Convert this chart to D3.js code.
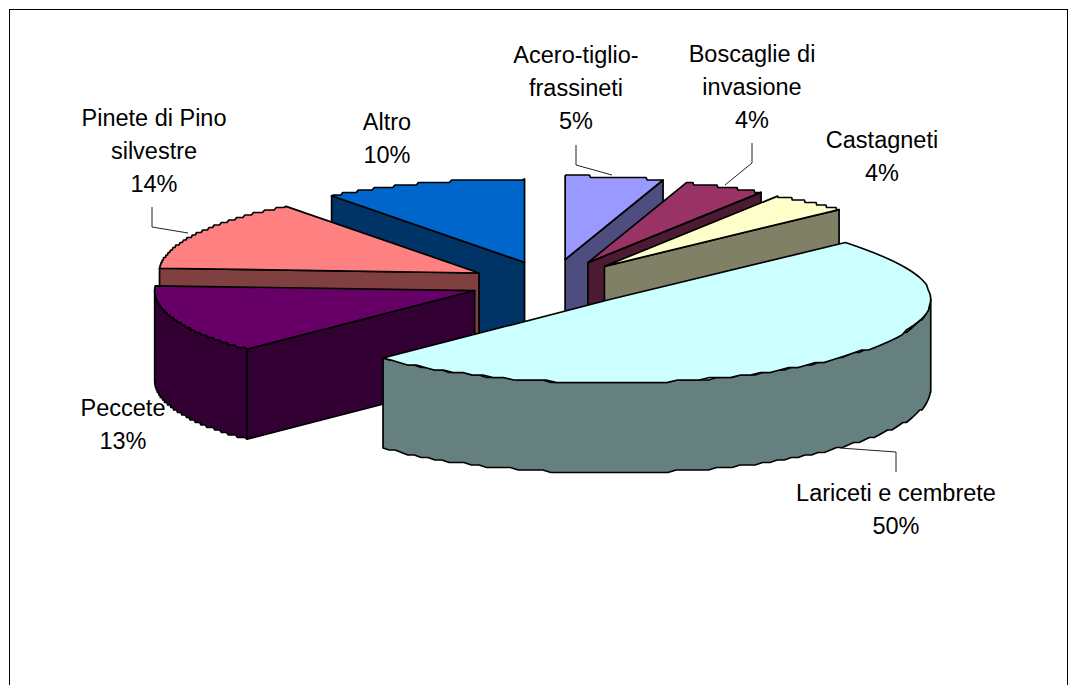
<!DOCTYPE html>
<html><head><meta charset="utf-8">
<script src="https://cdn.jsdelivr.net/npm/d3@7/dist/d3.min.js"></script>
<style>html,body{margin:0;padding:0;background:#fff}svg{display:block}text{font-family:"Liberation Sans",Arial,sans-serif;font-size:23.5px;fill:#000}</style>
</head><body><svg id="c" width="1077" height="685"></svg>
<script>
const categories=["Acero-tiglio-frassineti","Boscaglie di invasione","Castagneti","Lariceti e cembrete","Peccete","Pinete di Pino silvestre","Altro"];
const values=[4.95,4.15,4.0,49.5,13.3,13.8,10.3];
const topColors=["#9999FF","#993366","#FFFFCC","#CCFFFF","#660066","#FF8080","#0066CC"];
const sideColors=["#4D4D80","#4D1A33","#808066","#668080","#330033","#804040","#003366"];
const explodeFractions=[0.285,0.27,0.26,0.27,0.255,0.255,0.26];
const labelLines=[["Acero-tiglio-","frassineti","5%"],["Boscaglie di","invasione","4%"],["Castagneti","4%"],["Lariceti e cembrete","50%"],["Peccete","13%"],["Pinete di Pino","silvestre","14%"],["Altro","10%"]];
const labelAnchors=[[576,63],[752,62],[882,148],[896,501],[123,416],[154,126],[387,130]];
const leaders=[[[576,145],[576,165],[612,175]],[[752,143],[752,163],[725,185]],null,[[896,472],[896,452],[840,448]],null,[[152,207],[152,227],[188,233]],null];
const drawOrder=[6,0,1,2,5,4,3];
const cx=551,cy=283,rx=320,ry=83.5,depth=90,arcStep=2.5,arcSamples=90;
const svg=d3.select("#c");
svg.append("rect").attr("x",9.5).attr("y",9.5).attr("width",1058).attr("height",690).attr("fill","#fff").attr("stroke","#000");
const arcs=d3.pie().sort(null).value(d=>d)(values);
const sx=d3.scaleLinear().domain([-1,1]).range([-rx,rx]);
const sy=d3.scaleLinear().domain([-1,1]).range([-ry,ry]);
const line=d3.line();
const q=v=>Math.round(v/arcStep)*arcStep;
drawOrder.forEach(i=>{
  const a=arcs[i],mid=(a.startAngle+a.endAngle)/2,e=explodeFractions[i];
  const ox=cx+sx(Math.sin(mid)*e),oy=cy+sy(-Math.cos(mid)*e);
  const P=(t,d=0)=>[ox+sx(Math.sin(t)),oy+sy(-Math.cos(t))+d];
  const O=(d=0)=>[ox,oy+d];
  // dense arc with the faceted, slightly stepped outline of the original rendering
  const arcPts=(t0,t1,d=0)=>d3.range(0,arcSamples+1).map(k=>{
    const t=t0+(t1-t0)*k/arcSamples,p=P(t,d);
    return (k===0||k===arcSamples)?p:[p[0],q(p[1]-d)+d];
  });
  const g=svg.append("g");
  const sw=1.7;
  const wall=pts=>g.append("path").attr("d",line(pts)+"Z").attr("fill",sideColors[i]).attr("stroke","#000").attr("stroke-width",sw).attr("stroke-linejoin","round");
  const E=1e-6;
  if(Math.sin(a.startAngle)<-E) wall([O(),P(a.startAngle),P(a.startAngle,depth),O(depth)]);
  if(Math.sin(a.endAngle)>E) wall([O(),P(a.endAngle),P(a.endAngle,depth),O(depth)]);
  const t0=Math.max(a.startAngle,Math.PI/2),t1=Math.min(a.endAngle,3*Math.PI/2);
  if(t1>t0) wall(arcPts(t0,t1).concat(arcPts(t0,t1,depth).reverse()));
  g.append("path").attr("d",line([O()].concat(arcPts(a.startAngle,a.endAngle)))+"Z").attr("fill",topColors[i]).attr("stroke","#000").attr("stroke-width",sw).attr("stroke-linejoin","round");
});
leaders.forEach(l=>{if(l)svg.append("path").attr("d",line(l)).attr("fill","none").attr("stroke","#222").attr("stroke-width",1);});
labelLines.forEach((ls,i)=>{
  const t=svg.append("text").attr("text-anchor","middle").attr("transform",`translate(${labelAnchors[i][0]},${labelAnchors[i][1]})`);
  ls.forEach((s,k)=>t.append("tspan").attr("x",0).attr("y",k*33).text(s));
});
</script></body></html>
